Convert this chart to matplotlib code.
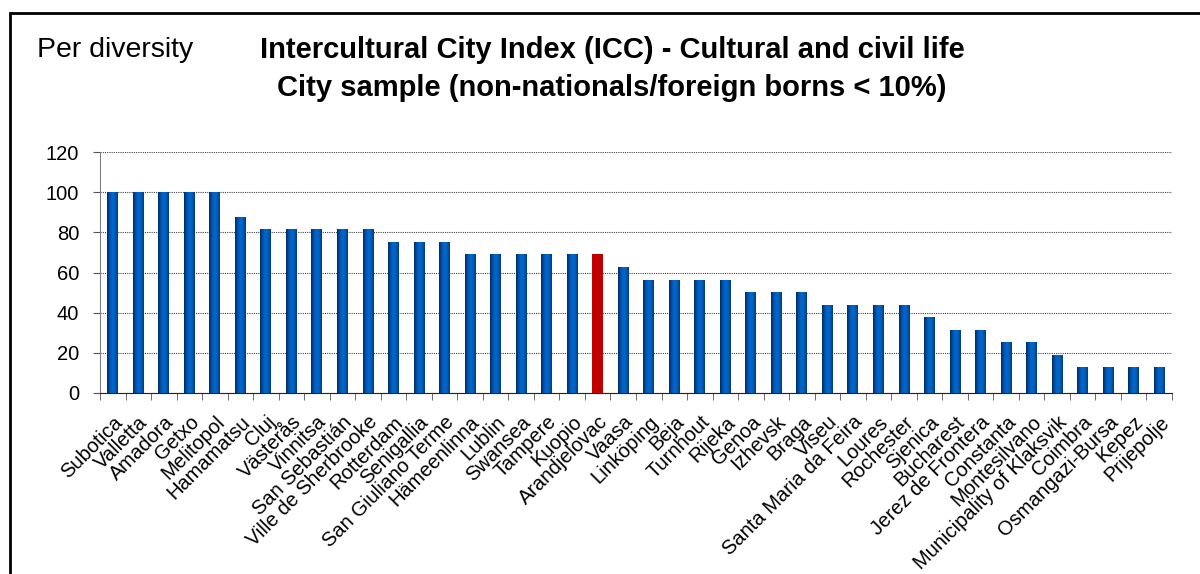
import matplotlib
matplotlib.use('Agg')
import matplotlib.pyplot as plt
from matplotlib.colors import LinearSegmentedColormap
from matplotlib.patches import Rectangle
import numpy as np

plt.rcParams['font.family'] = ['Liberation Sans', 'DejaVu Sans']

# data
cities = ['Subotica', 'Valletta', 'Amadora', 'Getxo', 'Melitopol', 'Hamamatsu',
          'Cluj', 'Västerås', 'Vinnitsa', 'San Sebastián', 'Ville de Sherbrooke',
          'Rotterdam', 'Senigallia', 'San Giuliano Terme', 'Hämeenlinna', 'Lublin',
          'Swansea', 'Tampere', 'Kuopio', 'Arandjelovac', 'Vaasa', 'Linköping',
          'Beja', 'Turnhout', 'Rijeka', 'Genoa', 'Izhevsk', 'Braga', 'Viseu',
          'Santa Maria da Feira', 'Loures', 'Rochester', 'Sjenica', 'Bucharest',
          'Jerez de Frontera', 'Constanta', 'Montesilvano',
          'Municipality of Klaksvik', 'Coimbra', 'Osmangazi-Bursa', 'Kepez',
          'Prijepolje']
scores = [100, 100, 100, 100, 100, 87.5,
          81.25, 81.25, 81.25, 81.25, 81.25,
          75, 75, 75, 68.75, 68.75,
          68.75, 68.75, 68.75, 68.75, 62.5, 56.25,
          56.25, 56.25, 56.25, 50, 50, 50, 43.75,
          43.75, 43.75, 43.75, 37.5, 31.25,
          31.25, 25, 25,
          18.75, 12.5, 12.5, 12.5,
          12.5]
highlight = 'Arandjelovac'
yticks = [0, 20, 40, 60, 80, 100, 120]

fig = plt.figure(figsize=(12, 5.74), dpi=100)
ax = fig.add_axes([100 / 1200, 1 - 393 / 574, 1072 / 1200, 241 / 574])

# verlauf: dunkle Ränder, helle Mitte
blue_cm = LinearSegmentedColormap.from_list(
    'b', ['#002a60', '#004c9e', '#0062c4', '#0066cc', '#0058b0', '#003a78'])
red_cm = LinearSegmentedColormap.from_list('r', ['#c00000', '#c00000'])

x = np.arange(len(cities))
bars = ax.bar(x, scores, width=0.43, color='none', zorder=3)
grad = np.linspace(0, 1, 64).reshape(1, -1)
for b, name in zip(bars, cities):
    cm = red_cm if name == highlight else blue_cm
    x0 = b.get_x()
    ax.imshow(grad, extent=[x0, x0 + b.get_width(), 0, b.get_height()],
              aspect='auto', cmap=cm, zorder=3, interpolation='bilinear')

ax.set_xlim(-0.5, len(cities) - 0.5)
ax.set_ylim(0, 120)
ax.set_yticks(yticks)
ax.set_yticklabels([str(v) for v in yticks], fontsize=14.5)
ax.yaxis.grid(True, linestyle=(0, (1, 1)), color='#444444', linewidth=0.8, zorder=0)
ax.set_axisbelow(True)

ax.set_xticks(x)
ax.set_xticklabels(cities, rotation=45, ha='right', va='top',
                   rotation_mode='anchor', fontsize=14.5)
ax.tick_params(axis='x', which='major', length=0, pad=14)
ax.set_xticks(np.arange(len(cities) + 1) - 0.5, minor=True)
ax.tick_params(axis='x', which='minor', length=5, color='#555555')
ax.tick_params(axis='y', length=5, color='#555555', pad=10)

for side in ['top', 'right']:
    ax.spines[side].set_visible(False)
ax.spines['left'].set_color('#808080')
ax.spines['bottom'].set_color('#222222')

fig.text(37 / 1200, 1 - 50 / 574, 'Per diversity', fontsize=20.5, va='center', ha='left')
fig.text(612 / 1200, 1 - 50 / 574, 'Intercultural City Index (ICC) - Cultural and civil life',
         fontsize=21, fontweight='bold', va='center', ha='center')
fig.text(612 / 1200, 1 - 88 / 574, 'City sample (non-nationals/foreign borns < 10%)',
         fontsize=21, fontweight='bold', va='center', ha='center')

# Rahmen
fig.patches.append(Rectangle((9.5 / 1200, -0.02), 1.1, 1 - 12.5 / 574 + 0.02,
                             transform=fig.transFigure, fill=False,
                             edgecolor='black', linewidth=2, clip_on=False))

fig.savefig('out.png', dpi=100)
